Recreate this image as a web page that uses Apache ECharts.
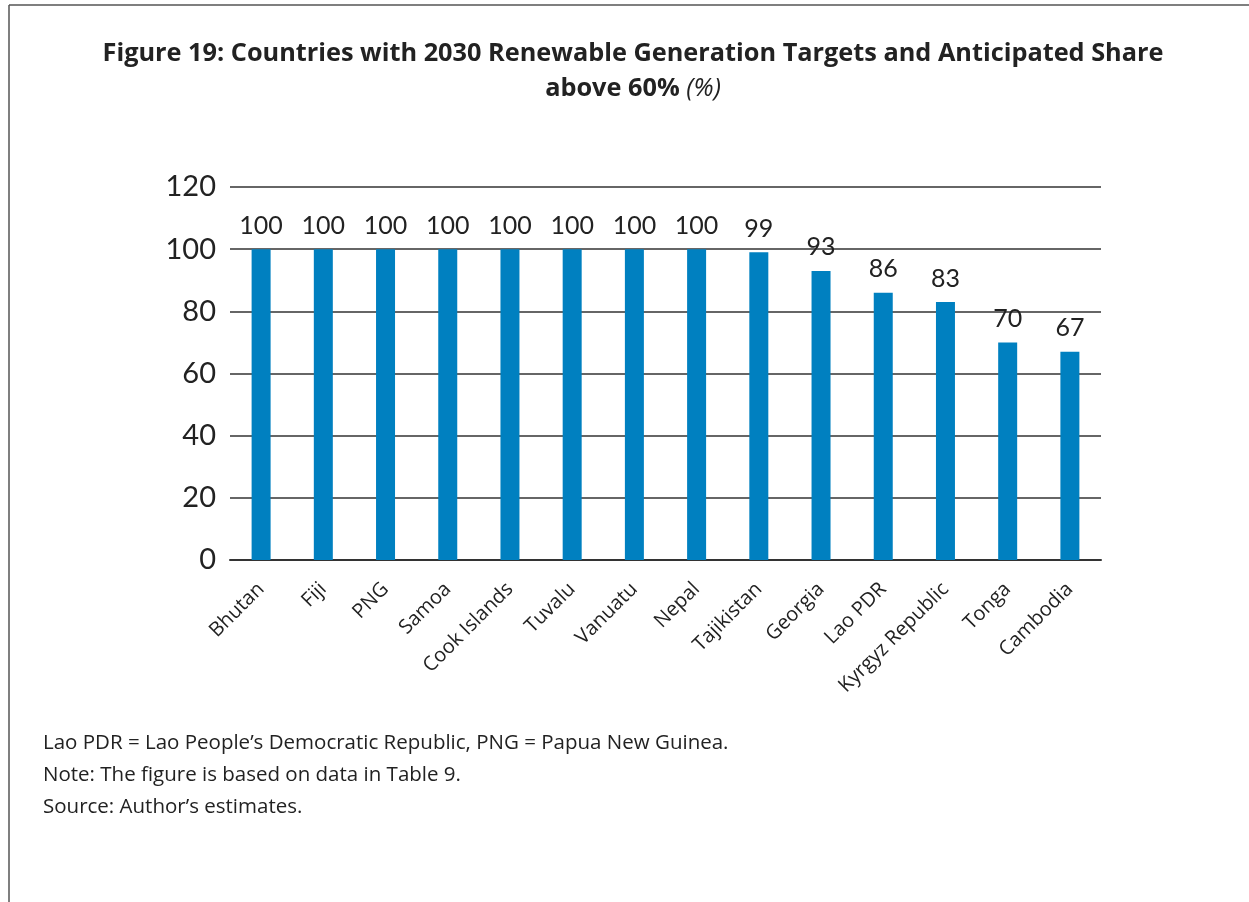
<!DOCTYPE html>
<html>
<head>
<meta charset="utf-8">
<script src="https://cdn.jsdelivr.net/npm/echarts@6/dist/echarts.min.js"></script>
<style>
  html, body { margin: 0; padding: 0; background: #fff; }
  #chart { width: 1249px; height: 902px; }
</style>
</head>
<body>
<div id="chart"></div>
<script>
// data
const countries = ['Bhutan', 'Fiji', 'PNG', 'Samoa', 'Cook Islands', 'Tuvalu', 'Vanuatu',
  'Nepal', 'Tajikistan', 'Georgia', 'Lao PDR', 'Kyrgyz Republic', 'Tonga', 'Cambodia']
const shares = [100, 100, 100, 100, 100, 100, 100, 100, 99, 93, 86, 83, 70, 67]
const notes = [
  'Lao PDR = Lao People\u2019s Democratic Republic, PNG = Papua New Guinea.',
  'Note: The figure is based on data in Table 9.',
  'Source: Author\u2019s estimates.'
]

const FONT = 'Lato, "Open Sans", sans-serif'
const WIDE = '"Open Sans", Lato, sans-serif'
let chart = echarts.init(document.getElementById('chart'))

let noteTexts = notes.map((t, i) => ({
  type: 'text',
  left: 43,
  top: 733 + i * 32,
  style: { text: t, font: '20.5px ' + WIDE, fill: '#222' }
}))

let titleTexts = [
  {
    type: 'text',
    x: 633,
    y: 54,
    style: {
      text: 'Figure 19: Countries with 2030 Renewable Generation Targets and Anticipated Share',
      font: 'bold 25.3px ' + WIDE,
      fill: '#222',
      align: 'center',
      verticalAlign: 'middle'
    }
  },
  {
    type: 'text',
    x: 633,
    y: 89,
    style: {
      text: '{b|above 60%}{i|\u00a0(%)}',
      align: 'center',
      verticalAlign: 'middle',
      rich: {
        b: { fontFamily: WIDE, fontSize: 25.3, fontWeight: 'bold', fill: '#222' },
        i: { fontFamily: WIDE, fontSize: 25.3, fontStyle: 'italic', fill: '#222' }
      }
    }
  }
]

let option = {
  backgroundColor: '#fff',
  grid: { left: 230, right: 148, top: 187, bottom: 342 },
  xAxis: {
    type: 'category',
    data: countries,
    axisLine: { lineStyle: { color: '#333', width: 2 } },
    axisTick: { show: false },
    axisLabel: {
      rotate: 45,
      interval: 0,
      margin: 26,
      fontFamily: WIDE,
      fontSize: 20,
      color: '#222'
    }
  },
  yAxis: {
    type: 'value',
    min: 0,
    max: 120,
    interval: 20,
    axisLine: { show: false },
    axisTick: { show: false },
    splitLine: { lineStyle: { color: '#333', width: 1.5 } },
    axisLabel: {
      margin: 14,
      fontFamily: FONT,
      fontSize: 29,
      color: '#222'
    }
  },
  series: [{
    type: 'bar',
    data: shares,
    barWidth: 19,
    itemStyle: { color: '#0080C0' },
    label: {
      show: true,
      position: 'top',
      distance: 11,
      fontFamily: FONT,
      fontSize: 25,
      color: '#222'
    }
  }],
  graphic: [
    { type: 'line', shape: { x1: 9, y1: 5, x2: 1249, y2: 5 }, style: { stroke: '#555', lineWidth: 1.5 } },
    { type: 'line', shape: { x1: 9, y1: 5, x2: 9, y2: 902 }, style: { stroke: '#555', lineWidth: 1.5 } }
  ].concat(titleTexts, noteTexts)
}

chart.setOption(option)
window.onresize = function () {
  chart.resize()
}
</script>
</body>
</html>
